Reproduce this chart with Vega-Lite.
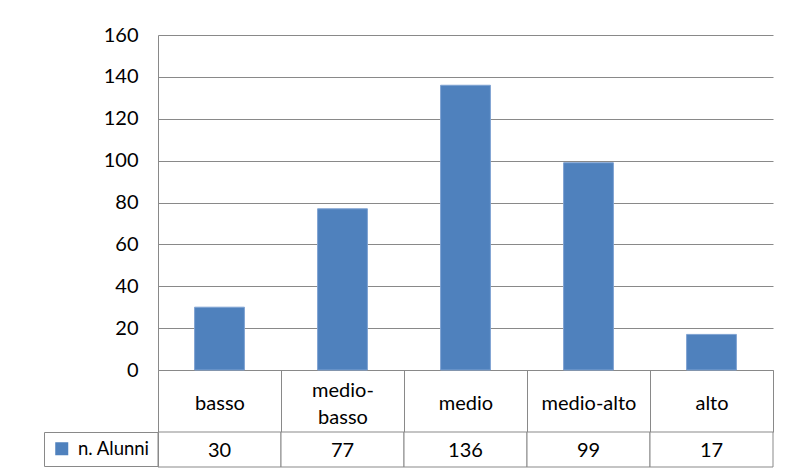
{
  "$schema": "https://vega.github.io/schema/vega-lite/v6.json",
  "padding": {"left": 43, "top": 25, "right": 3, "bottom": 2},
  "background": "white",
  "spacing": 62,
  "bounds": "flush",
  "config": {
    "font": "Lato",
    "view": {"stroke": null},
    "axis": {"labelFont": "Lato", "labelFontSize": 20, "labelColor": "#000000", "domainColor": "#898989", "gridColor": "#898989", "tickColor": "#898989"},
    "legend": {"labelFont": "Lato", "labelFontSize": 18.5, "labelColor": "#000000"}
  },
  "datasets": {
    "alunni": [
      {"livello": "basso", "n": 30},
      {"livello": "medio-basso", "n": 77},
      {"livello": "medio", "n": 136},
      {"livello": "medio-alto", "n": 99},
      {"livello": "alto", "n": 17}
    ]
  },
  "vconcat": [
    {
      "width": 615,
      "height": 335,
      "data": {"name": "alunni"},
      "mark": {"type": "bar", "color": "#4F81BD", "stroke": "#7FA2D2", "strokeWidth": 1, "width": {"band": 0.405}},
      "encoding": {
        "x": {
          "field": "livello", "type": "nominal", "sort": null,
          "scale": {"paddingInner": 0, "paddingOuter": 0},
          "axis": {
            "title": null, "labelAngle": 0, "ticks": true, "tickBand": "extent", "tickSize": 62,
            "labelPadding": {"condition": {"test": "datum.value == 'medio-basso'", "value": -42}, "value": -29},
            "labelBaseline": "middle", "labelLineHeight": 27, "labelLimit": 0,
            "labelExpr": "datum.value == 'medio-basso' ? ['medio-', 'basso'] : datum.label"
          }
        },
        "y": {
          "field": "n", "type": "quantitative",
          "scale": {"domain": [0, 160]},
          "axis": {"title": null, "values": [0, 20, 40, 60, 80, 100, 120, 140, 160], "grid": true, "ticks": false, "labelPadding": 20}
        }
      }
    },
    {
      "width": 615,
      "height": 35,
      "data": {"name": "alunni"},
      "encoding": {
        "x": {"field": "livello", "type": "nominal", "sort": null, "scale": {"paddingInner": 0, "paddingOuter": 0}, "axis": null}
      },
      "layer": [
        {"mark": {"type": "rect", "fill": "white", "stroke": "#898989", "strokeWidth": 1}},
        {"mark": {"type": "text", "font": "Lato", "fontSize": 20, "color": "#000000", "baseline": "middle", "dy": 1}, "encoding": {"text": {"field": "n", "type": "quantitative"}}},
        {
          "mark": {"type": "square", "size": 0, "opacity": 1},
          "encoding": {
            "fill": {
              "datum": "n. Alunni",
              "scale": {"range": ["#4F81BD"]},
              "legend": {
                "title": null, "orient": "left", "offset": 0, "padding": 7.5, "strokeColor": "#898989",
                "symbolType": "square", "symbolSize": 169, "symbolStrokeWidth": 0, "symbolOpacity": 1, "symbolOffset": 1, "labelOffset": 7
              }
            }
          }
        }
      ],
      "resolve": {"scale": {"fill": "independent"}}
    }
  ],
  "resolve": {"scale": {"fill": "independent"}, "legend": {"fill": "independent"}}
}
